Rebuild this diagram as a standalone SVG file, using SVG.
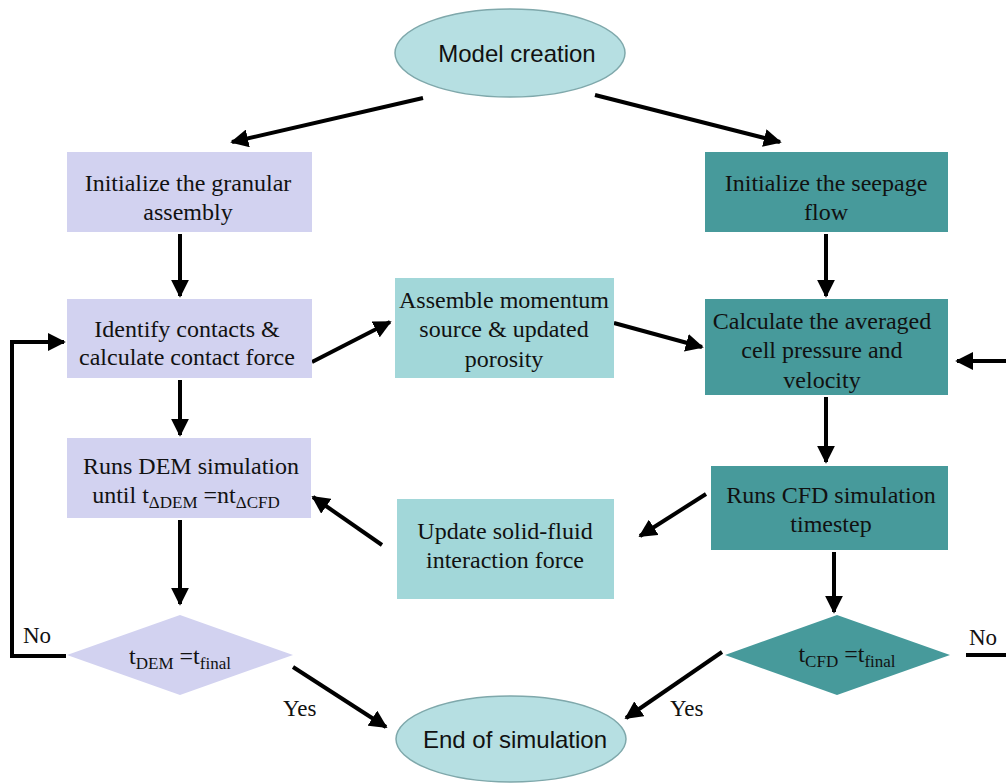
<svg xmlns="http://www.w3.org/2000/svg" width="1006" height="783" viewBox="0 0 1006 783">
<defs>
<style>
.lav{fill:#d2d2f0}
.lt{fill:#a2d7d9}
.dk{fill:#479a9b}
.ell{fill:#b6dfe2;stroke:#7fa8ab;stroke-width:1.5}
.t{font-family:"Liberation Serif",serif;font-size:24px;fill:#111;text-anchor:middle}
.ts{font-family:"Liberation Sans",sans-serif;font-size:24px;fill:#111;text-anchor:middle}
.lbl{font-family:"Liberation Serif",serif;font-size:23px;fill:#111}
.c{stroke:#000;stroke-width:4;fill:none}
.sub{font-size:17px}
</style>
<marker id="ah" viewBox="0 0 10 10" refX="9" refY="5" markerWidth="4.5" markerHeight="4.5" orient="auto" markerUnits="strokeWidth">
<path d="M0,0 L10,5 L0,10 z" fill="#000"/>
</marker>
</defs>
<rect width="1006" height="783" fill="#fff"/>

<g id="connectors">
<line class="c" x1="423" y1="98" x2="232" y2="142" marker-end="url(#ah)"/>
<line class="c" x1="595" y1="95" x2="780" y2="142" marker-end="url(#ah)"/>
<line class="c" x1="180" y1="234" x2="180" y2="296" marker-end="url(#ah)"/>
<line class="c" x1="180" y1="380" x2="180" y2="435" marker-end="url(#ah)"/>
<line class="c" x1="180" y1="520" x2="180" y2="604" marker-end="url(#ah)"/>
<line class="c" x1="312" y1="362" x2="390" y2="322" marker-end="url(#ah)"/>
<line class="c" x1="614" y1="323" x2="702" y2="347" marker-end="url(#ah)"/>
<line class="c" x1="826" y1="234" x2="826" y2="296" marker-end="url(#ah)"/>
<line class="c" x1="826" y1="397" x2="826" y2="462" marker-end="url(#ah)"/>
<line class="c" x1="706" y1="494" x2="640" y2="536" marker-end="url(#ah)"/>
<line class="c" x1="382" y1="545" x2="313" y2="497" marker-end="url(#ah)"/>
<line class="c" x1="834" y1="552" x2="834" y2="612" marker-end="url(#ah)"/>
<line class="c" x1="293" y1="667" x2="386" y2="727" marker-end="url(#ah)"/>
<line class="c" x1="722" y1="652" x2="626" y2="718" marker-end="url(#ah)"/>
<polyline class="c" points="66,656 12,656 12,342 64,342" marker-end="url(#ah)"/>
<line class="c" x1="966" y1="655" x2="1008" y2="655"/>
<line class="c" x1="1008" y1="361" x2="957" y2="361" marker-end="url(#ah)"/>
<text class="lbl" x="23" y="643">No</text>
<text class="lbl" x="969" y="645">No</text>
<text class="lbl" x="283" y="716">Yes</text>
<text class="lbl" x="670" y="716">Yes</text>
</g>

<g id="model-creation">
<ellipse class="ell" cx="510" cy="53" rx="115" ry="44"/>
<text class="ts" x="517" y="62">Model creation</text>
</g>

<g id="init-granular">
<rect class="lav" x="67" y="152" width="245" height="80"/>
<text class="t" x="188" y="191">Initialize the granular</text>
<text class="t" x="188" y="220">assembly</text>
</g>

<g id="identify-contacts">
<rect class="lav" x="67" y="299" width="245" height="79"/>
<text class="t" x="187" y="337">Identify contacts &amp;</text>
<text class="t" x="187" y="365">calculate contact force</text>
</g>

<g id="runs-dem">
<rect class="lav" x="67" y="438" width="244" height="80"/>
<text class="t" x="191" y="474">Runs DEM simulation</text>
<text class="t" x="186" y="503">until t<tspan class="sub" dy="5">ΔDEM</tspan><tspan dy="-5"> =nt</tspan><tspan class="sub" dy="5">ΔCFD</tspan></text>
</g>

<g id="dem-decision">
<polygon class="lav" points="67,655 180,615 293,655 180,695"/>
<text class="t" x="180" y="664">t<tspan class="sub" dy="5">DEM</tspan><tspan dy="-5"> =t</tspan><tspan class="sub" dy="5">final</tspan></text>
</g>

<g id="assemble-momentum">
<rect class="lt" x="395" y="278" width="219" height="100"/>
<text class="t" x="504" y="308">Assemble momentum</text>
<text class="t" x="504" y="337">source &amp; updated</text>
<text class="t" x="504" y="367">porosity</text>
</g>

<g id="update-force">
<rect class="lt" x="397" y="499" width="217" height="100"/>
<text class="t" x="505" y="539">Update solid-fluid</text>
<text class="t" x="505" y="568">interaction force</text>
</g>

<g id="init-seepage">
<rect class="dk" x="705" y="152" width="243" height="80"/>
<text class="t" x="826" y="191">Initialize the seepage</text>
<text class="t" x="826" y="220">flow</text>
</g>

<g id="calc-pressure">
<rect class="dk" x="705" y="299" width="243" height="96"/>
<text class="t" x="822" y="329">Calculate the averaged</text>
<text class="t" x="822" y="358">cell pressure and</text>
<text class="t" x="822" y="388">velocity</text>
</g>

<g id="runs-cfd">
<rect class="dk" x="711" y="466" width="237" height="84"/>
<text class="t" x="831" y="503">Runs CFD simulation</text>
<text class="t" x="831" y="532">timestep</text>
</g>

<g id="cfd-decision">
<polygon class="dk" points="725,655 837,615 950,655 837,695"/>
<text class="t" x="847" y="662">t<tspan class="sub" dy="5">CFD</tspan><tspan dy="-5"> =t</tspan><tspan class="sub" dy="5">final</tspan></text>
</g>

<g id="end-simulation">
<ellipse class="ell" cx="511" cy="739" rx="115" ry="43"/>
<text class="ts" x="515" y="748">End of simulation</text>
</g>
</svg>
